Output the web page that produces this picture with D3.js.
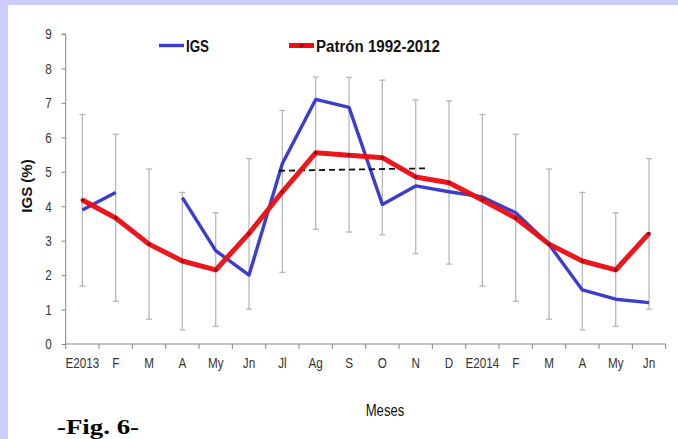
<!DOCTYPE html>
<html>
<head>
<meta charset="utf-8">
<script src="https://cdn.jsdelivr.net/npm/d3@7/dist/d3.min.js"></script>
<style>
  html, body { margin: 0; padding: 0; background: #ffffff; }
  svg { display: block; }
</style>
</head>
<body>
<script>
const months = ["E2013","F","M","A","My","Jn","Jl","Ag","S","O","N","D","E2014","F","M","A","My","Jn"];
const igs = [3.89, 4.40, null, 4.25, 2.71, 2.00, 5.24, 7.10, 6.87, 4.05, 4.59, 4.42, 4.27, 3.81, 2.89, 1.57, 1.30, 1.20];
const patron = [4.18, 3.66, 2.90, 2.41, 2.15, 3.21, 4.42, 5.55, 5.48, 5.41, 4.85, 4.68, 4.18, 3.66, 2.90, 2.41, 2.15, 3.21];
const errUpper = [6.66, 6.09, 5.08, 4.40, 3.81, 5.38, 6.78, 7.75, 7.74, 7.66, 7.09, 7.06, 6.66, 6.09, 5.08, 4.40, 3.81, 5.38];
const errLower = [1.68, 1.24, 0.72, 0.41, 0.51, 1.01, 2.08, 3.33, 3.25, 3.17, 2.62, 2.32, 1.68, 1.24, 0.72, 0.41, 0.51, 1.01];
const trendIndex = [5.9, 10.35];
const trendValue = [5.03, 5.10];
const yTicks = [0,1,2,3,4,5,6,7,8,9];
const seriesNames = ["IGS", "Patrón 1992-2012"];

const W = 678, H = 439;
const sans = "'Liberation Sans', Arial, sans-serif";
const svg = d3.select("body").append("svg").attr("width", W).attr("height", H);

// background frame
svg.append("rect").attr("x",0).attr("y",0).attr("width",W).attr("height",H).attr("fill","#ccccff");
svg.append("rect").attr("x",8).attr("y",5).attr("width",W-8).attr("height",H-5).attr("fill","#ffffff");

const x0 = 65.7, x1 = 665.7, yTop = 34, yBot = 344;
const band = d3.scaleBand().domain(d3.range(months.length)).range([x0, x1]).padding(0);
const xc = i => band(i) + band.bandwidth()/2;
const xi = d3.scaleLinear().domain([0, months.length-1]).range([xc(0), xc(months.length-1)]);
const y = d3.scaleLinear().domain([0, 9]).range([yBot, yTop]);

const axisColor = "#868686";

// y axis
const gy = svg.append("g").attr("transform", `translate(${x0},0)`)
  .call(d3.axisLeft(y).tickValues(yTicks).tickSize(4).tickPadding(0).tickFormat(d3.format("d")));
gy.select(".domain").attr("stroke", axisColor).attr("d", `M-4,${yTop}H0V${yBot}`);
gy.selectAll(".tick line").attr("stroke", axisColor);
gy.selectAll(".tick text").attr("font-family", sans).attr("font-size", 15).attr("fill", "#333")
  .attr("x", 0).attr("transform", "translate(-14,0) scale(0.78,1)");

// x axis
const gx = svg.append("g").attr("transform", `translate(0,${yBot})`)
  .call(d3.axisBottom(band).tickSize(0).tickPadding(13).tickFormat(i => months[i]));
gx.select(".domain").attr("stroke", axisColor).attr("d", `M${x0},0H${x1}`);
gx.selectAll(".tick text").attr("font-family", sans).attr("font-size", 15).attr("fill", "#333")
  .attr("transform", "scale(0.78,1)");
gx.selectAll("line.bound").data(d3.range(months.length + 1)).enter().append("line")
  .attr("class","bound")
  .attr("x1", i => i < months.length ? band(i) : x1)
  .attr("x2", i => i < months.length ? band(i) : x1)
  .attr("y1", 0).attr("y2", 5).attr("stroke", axisColor);

// error bars
const eb = svg.append("g").attr("stroke", "#b8b8b8").attr("stroke-width", 1.3);
months.forEach((m, i) => {
  eb.append("line").attr("x1", xc(i)).attr("x2", xc(i)).attr("y1", y(errUpper[i])).attr("y2", y(errLower[i]));
  eb.append("line").attr("x1", xc(i)-3).attr("x2", xc(i)+3).attr("y1", y(errUpper[i])).attr("y2", y(errUpper[i]));
  eb.append("line").attr("x1", xc(i)-3).attr("x2", xc(i)+3).attr("y1", y(errLower[i])).attr("y2", y(errLower[i]));
});

// IGS line
const line = d3.line().defined(d => d.v !== null).x(d => xc(d.i)).y(d => y(d.v));
svg.append("path").datum(igs.map((v,i)=>({i, v})))
  .attr("d", line).attr("fill","none").attr("stroke","#3d3dcc").attr("stroke-width",3.4)
  .attr("stroke-linejoin","round");

// dashed trend
svg.append("line")
  .attr("x1", xi(trendIndex[0])).attr("x2", xi(trendIndex[1]))
  .attr("y1", y(trendValue[0])).attr("y2", y(trendValue[1]))
  .attr("stroke","#111").attr("stroke-width",1.8).attr("stroke-dasharray","6,4");

// Patron line
svg.append("path").datum(patron.map((v,i)=>({i, v})))
  .attr("d", line).attr("fill","none").attr("stroke","#ea1016").attr("stroke-width",5)
  .attr("stroke-linejoin","round").attr("stroke-opacity",0.97);
svg.append("g").selectAll("circle").data(patron).enter().append("circle")
  .attr("cx",(d,i)=>xc(i)).attr("cy",d=>y(d)).attr("r",1.8).attr("fill","#a80008");

// legend
const lg = svg.append("g");
lg.append("line").attr("x1",159).attr("x2",184).attr("y1",45.5).attr("y2",45.5)
  .attr("stroke","#3d3dcc").attr("stroke-width",3.4);
lg.append("text").attr("x",186).attr("y",51.5).text(seriesNames[0])
  .attr("font-family",sans).attr("font-size",16).attr("font-weight","bold").attr("fill","#111")
  .attr("textLength",23).attr("lengthAdjust","spacingAndGlyphs");
lg.append("line").attr("x1",289).attr("x2",314).attr("y1",45.5).attr("y2",45.5)
  .attr("stroke","#ea1016").attr("stroke-width",5);
lg.append("circle").attr("cx",301.5).attr("cy",45.5).attr("r",1.8).attr("fill","#a80008");
lg.append("text").attr("x",316).attr("y",51.5).text(seriesNames[1])
  .attr("font-family",sans).attr("font-size",16).attr("font-weight","bold").attr("fill","#111")
  .attr("textLength",124).attr("lengthAdjust","spacingAndGlyphs");

// axis titles
svg.append("text").attr("transform","translate(32,186) rotate(-90)")
  .attr("text-anchor","middle").text("IGS (%)")
  .attr("font-family",sans).attr("font-size",15).attr("font-weight","bold").attr("fill","#111");
svg.append("text").attr("transform","translate(385,416) scale(0.82,1)").attr("text-anchor","middle").text("Meses")
  .attr("font-family",sans).attr("font-size",16).attr("fill","#111");
svg.append("text").attr("x",57).attr("y",433.5).text("-Fig. 6-")
  .attr("font-family","'Liberation Serif', 'Times New Roman', serif").attr("font-size",21).attr("font-weight","bold")
  .attr("textLength",82).attr("lengthAdjust","spacingAndGlyphs").attr("fill","#000");
</script>
</body>
</html>
